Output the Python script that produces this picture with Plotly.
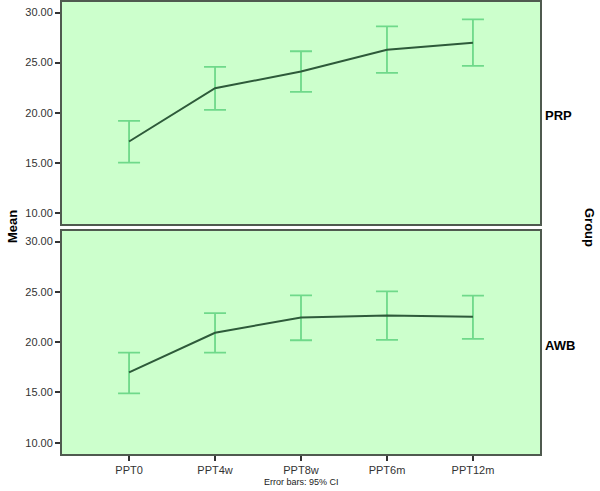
import plotly.graph_objects as go

categories = ["PPT0", "PPT4w", "PPT8w", "PPT6m", "PPT12m"]

prp_mean = [17.12, 22.44, 24.10, 26.29, 26.99]
prp_upper = [19.18, 24.57, 26.13, 28.62, 29.32]
prp_lower = [15.00, 20.28, 22.07, 23.97, 24.67]

awb_mean = [17.00, 20.93, 22.45, 22.65, 22.52]
awb_upper = [18.96, 22.88, 24.65, 25.04, 24.62]
awb_lower = [14.90, 18.96, 20.19, 20.23, 20.33]

groups = ["PRP", "AWB"]
y_ticks = [10, 15, 20, 25, 30]
y_tick_text = ["10.00", "15.00", "20.00", "25.00", "30.00"]

LINE = "#2e5a3a"
ERR = "#6fd98a"
BG = "#ccffcc"
FRAME = "#4f5a4f"

fig = go.Figure()

def add_panel(mean, upper, lower, xa, ya):
    fig.add_trace(go.Scatter(
        x=categories, y=mean, mode="lines",
        line=dict(color=LINE, width=2),
        error_y=dict(type="data", symmetric=False,
                     array=[u - m for u, m in zip(upper, mean)],
                     arrayminus=[m - l for m, l in zip(mean, lower)],
                     color=ERR, thickness=1.8, width=11),
        xaxis=xa, yaxis=ya, showlegend=False, hoverinfo="skip"))

add_panel(prp_mean, prp_upper, prp_lower, "x", "y")
add_panel(awb_mean, awb_upper, awb_lower, "x2", "y2")

xdom = [62 / 600, 540 / 600]
H = 491
top_dom = [1 - 224 / H, 1 - 2 / H]
bot_dom = [1 - 454 / H, 1 - 231 / H]

tickfont = dict(family="Liberation Sans, Arial, sans-serif", size=11, color="#333")

common_y = dict(range=[8.88, 31.05], tickvals=y_ticks, ticktext=y_tick_text,
                ticks="outside", ticklen=5, tickcolor="#333", tickwidth=1.5,
                showgrid=False, zeroline=False, showline=True, linecolor=FRAME,
                linewidth=2, mirror=True, tickfont=tickfont)
common_x = dict(range=[-0.78, 4.78], showgrid=False, zeroline=False,
                showline=True, linecolor=FRAME, linewidth=2, mirror=True,
                tickfont=tickfont, domain=xdom)

fig.update_layout(
    width=600, height=491,
    margin=dict(l=0, r=0, t=0, b=0),
    paper_bgcolor="white",
    plot_bgcolor=BG,
    xaxis=dict(**common_x, anchor="y", showticklabels=False, ticks=""),
    yaxis=dict(**common_y, domain=top_dom, anchor="x"),
    xaxis2=dict(**common_x, anchor="y2", ticks="outside", ticklen=5,
                tickcolor="#333", tickwidth=1.5),
    yaxis2=dict(**common_y, domain=bot_dom, anchor="x2"),
)

label_font = dict(family="Liberation Sans, Arial, sans-serif", size=13, color="black")
fig.add_annotation(text="<b>PRP</b>", x=543 / 600, y=1 - 115 / H, xref="paper", yref="paper",
                   xanchor="left", yanchor="middle", showarrow=False, font=label_font)
fig.add_annotation(text="<b>AWB</b>", x=543 / 600, y=1 - 345 / H, xref="paper", yref="paper",
                   xanchor="left", yanchor="middle", showarrow=False, font=label_font)
fig.add_annotation(text="<b>Mean</b>", x=12 / 600, y=1 - 227 / H, xref="paper", yref="paper",
                   xanchor="center", yanchor="middle", showarrow=False, textangle=-90,
                   font=label_font)
fig.add_annotation(text="<b>Group</b>", x=590 / 600, y=1 - 227 / H, xref="paper", yref="paper",
                   xanchor="center", yanchor="middle", showarrow=False, textangle=90,
                   font=label_font)
fig.add_annotation(text="Error bars: 95% CI", x=301 / 600, y=1 - 482 / H, xref="paper", yref="paper",
                   xanchor="center", yanchor="middle", showarrow=False,
                   font=dict(family="Liberation Sans, Arial, sans-serif", size=9, color="#222"))

fig.write_html("out.html", config={"displayModeBar": False},
               post_script="document.body.style.margin='0';document.body.style.overflow='hidden';")
